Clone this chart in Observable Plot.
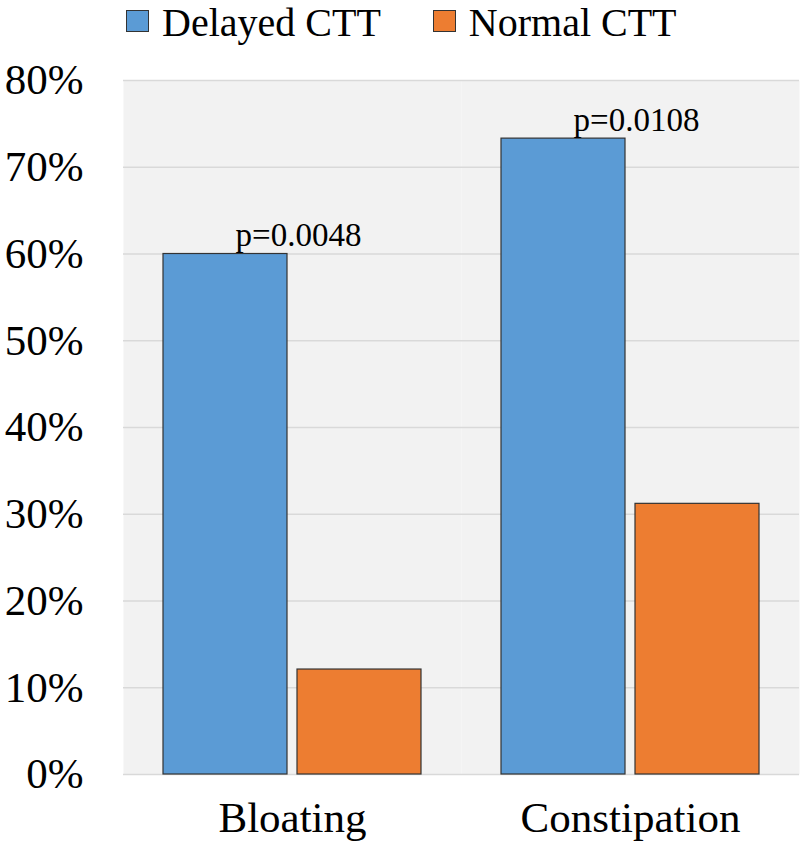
<!DOCTYPE html>
<html>
<head>
<meta charset="utf-8">
<script src="https://cdn.jsdelivr.net/npm/d3@7"></script>
<script src="https://cdn.jsdelivr.net/npm/@observablehq/plot@0.6"></script>
<style>
  html, body { margin: 0; padding: 0; background: #fff; }
  body { width: 800px; font-family: "Liberation Serif", serif; }
  #legend { position: relative; height: 40px; display: flex; align-items: flex-start; padding-left: 126px; box-sizing: border-box; overflow: visible; }
  .item { display: flex; align-items: flex-start; }
  .sw { width: 21px; height: 20px; margin-top: 10px; margin-right: 13px; border: 1px solid #333; }
  .lab { font-size: 40px; line-height: 45px; color: #000; white-space: nowrap; }
</style>
</head>
<body>
<div id="legend"></div>
<div id="chart"></div>
<script>
const categories = ["Bloating", "Constipation"];
const seriesNames = ["Delayed CTT", "Normal CTT"];
const delayed = [60.0, 73.3];
const normal = [12.1, 31.2];
const pValues = ["p=0.0048", "p=0.0108"];
const yTicks = [0, 10, 20, 30, 40, 50, 60, 70, 80];
const colors = ["#5B9BD5", "#ED7D31"];

const data = categories.flatMap((c, i) => [
  {category: c, series: seriesNames[0], value: delayed[i]},
  {category: c, series: seriesNames[1], value: normal[i]}
]);
const pData = categories.map((c, i) => ({category: c, y: delayed[i], p: pValues[i]}));

// legend
const legend = document.getElementById("legend");
seriesNames.forEach((s, i) => {
  const it = document.createElement("div");
  it.className = "item";
  if (i > 0) it.style.marginLeft = "52px";
  const sw = document.createElement("div");
  sw.className = "sw";
  sw.style.background = colors[i];
  const lab = document.createElement("span");
  lab.className = "lab";
  lab.textContent = s;
  it.appendChild(sw); it.appendChild(lab);
  legend.appendChild(it);
});

const chart = Plot.plot({
  width: 800,
  height: 802,
  marginTop: 40,
  marginBottom: 68,
  marginLeft: 122,
  marginRight: 1,
  style: {fontFamily: "Liberation Serif, serif", background: "transparent", color: "#000", overflow: "visible"},
  fx: {domain: categories, padding: 0, label: null},
  x: {domain: seriesNames, paddingInner: 0.074, paddingOuter: 0.296, axis: null},
  y: {domain: [0, 80], label: null},
  color: {domain: seriesNames, range: colors},
  marks: [
    Plot.frame({fill: "#f2f2f2", stroke: null}),
    Plot.gridY(yTicks, {stroke: "#d9d9d9", strokeOpacity: 1, strokeWidth: 1.5}),
    Plot.axisY(yTicks, {tickSize: 0, tickPadding: 40, fontSize: 43, tickFormat: d => d + "%", label: null}),
    Plot.axisFx({anchor: "bottom", tickSize: 0, tickPadding: 27, fontSize: 43, label: null}),
    Plot.barY(data, {fx: "category", x: "series", y: "value", fill: "series", stroke: "#333", strokeWidth: 1.2}),
    Plot.text(pData, {fx: "category", y: "y", text: "p", dx: 6, dy: -8, lineAnchor: "bottom", fontSize: 33, fill: "#000"})
  ]
});
document.getElementById("chart").appendChild(chart);
</script>
</body>
</html>
